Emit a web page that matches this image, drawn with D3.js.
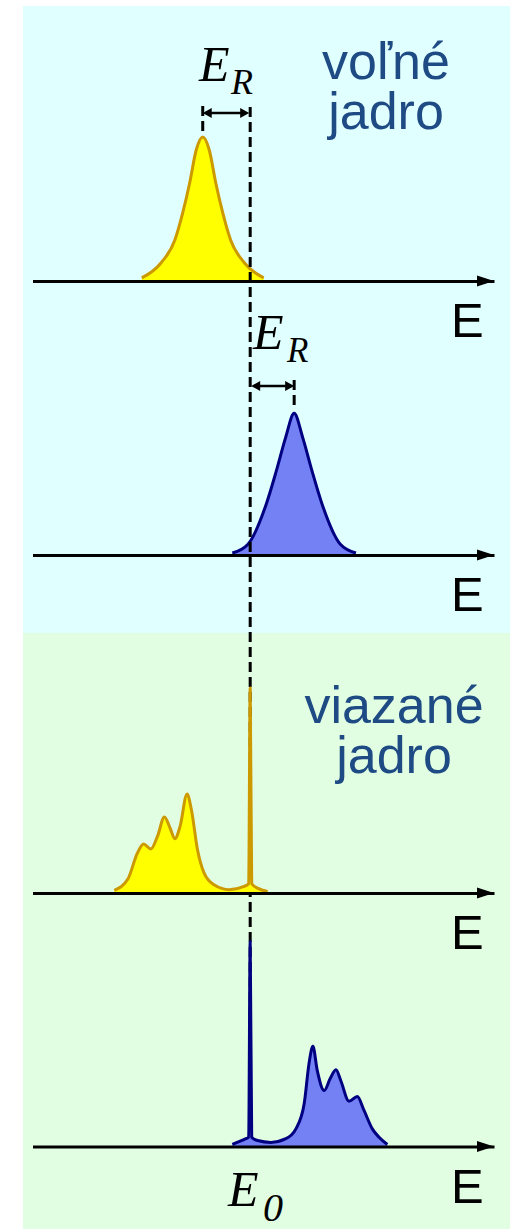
<!DOCTYPE html>
<html>
<head>
<meta charset="utf-8">
<script src="https://cdn.jsdelivr.net/npm/d3@7"></script>
<style>
  html, body { margin: 0; padding: 0; background: #fff; }
  svg { display: block; }
</style>
</head>
<body>
<script>
// Energy axis in arbitrary units, E0 (resonance energy) at 0
const energyRange = [-50, 56];
const intensityRange = [0, 100];
const E0 = 0;

// Spectra as [energy, intensity] samples
const freeEmission = [[-24.9,1.5],[-20.5,8.8],[-17.3,20],[-15.5,33.2],[-13.9,47.8],[-12.4,63.9],[-10.9,70.2],[-9.4,63.9],[-7.9,47.8],[-6.3,33.2],[-4.5,20],[-1.3,8.8],[3.1,1.5]];
const freeAbsorption = [[-4.1,1],[-0.45,5.4],[3.7,24.9],[6.0,41],[8.15,57.4],[10.1,69.1],[12.05,57.4],[14.2,41],[16.5,24.9],[20.65,5.4],[24.3,1]];
const boundEmission = [[-31.2,1.3],[-28.1,6.8],[-25.9,19.5],[-24.5,23.9],[-22.8,21.5],[-21.3,27.6],[-19.7,37.1],[-18.4,31.7],[-17.3,26.5],[-16.1,32.5],[-14.5,48.3],[-13.5,40.6],[-12.1,21.1],[-10.6,9.8],[-8.3,4.0],[-4.8,1.6],[-1.4,3.2],[-0.35,4.5],[0,100],[0.35,4.5],[1.7,2.4],[4.0,0.8]];
const boundAbsorption = [[-4.1,1.0],[-1.0,3.8],[-0.35,4.5],[0,100],[0.35,4.5],[1.7,2.9],[4.75,2.0],[8.2,3.8],[10.5,8.6],[12.4,20.8],[13.5,40.3],[14.4,48.9],[15.4,37.1],[17.0,27.3],[18.35,33.0],[19.7,37.4],[20.8,32.2],[22.7,22.1],[24.6,24.4],[26.15,17.6],[28.05,8.6],[29.6,4.5],[31.5,1.0]];

// Text
const axisLabel = "E";
const freeLabel = ["voľné", "jadro"];
const boundLabel = ["viazané", "jadro"];
const recoilLabel = ["E", "R"];
const resonanceLabel = ["E", "0"];

const W = 510, H = 1229;
const svg = d3.select("body").append("svg").attr("width", W).attr("height", H);

const x = d3.scaleLinear().domain(energyRange).range([32.5, 494]);

const emissionStyle = { fill: "#ffff00", stroke: "#cc9900" };
const absorptionStyle = { fill: "#7381f4", stroke: "#000080" };

const panels = [
  { data: freeEmission,   base: 281,    style: emissionStyle },
  { data: freeAbsorption, base: 555,    style: absorptionStyle },
  { data: boundEmission,  base: 893,    style: emissionStyle },
  { data: boundAbsorption,base: 1146.5, style: absorptionStyle }
];
panels.forEach(p => {
  p.y = d3.scaleLinear().domain(intensityRange).range([p.base, p.base - 205]);
});

// Backgrounds: free nucleus (top) and bound nucleus (bottom)
svg.append("rect").attr("x", 23).attr("y", 6).attr("width", W - 23).attr("height", 627).attr("fill", "#e0ffff");
svg.append("rect").attr("x", 23).attr("y", 633).attr("width", W - 23).attr("height", H - 633).attr("fill", "#e2fee2");

const layerFree = svg.append("g");
const layerGuides = svg.append("g");
const layerBound = svg.append("g");
const layerAxes = svg.append("g");
const layerText = svg.append("g");

function drawSpectrum(g, p) {
  const area = d3.area().x(d => x(d[0])).y0(p.base).y1(d => p.y(d[1])).curve(d3.curveMonotoneX);
  const line = d3.line().x(d => x(d[0])).y(d => p.y(d[1])).curve(d3.curveMonotoneX);
  g.append("path").attr("d", area(p.data)).attr("fill", p.style.fill);
  g.append("path").attr("d", line(p.data)).attr("fill", "none")
    .attr("stroke", p.style.stroke).attr("stroke-width", 3).attr("stroke-linejoin", "round");
}
drawSpectrum(layerFree, panels[0]);
drawSpectrum(layerFree, panels[1]);
drawSpectrum(layerBound, panels[2]);
drawSpectrum(layerBound, panels[3]);

// Axes with arrowheads
panels.forEach(p => {
  const ax = d3.axisBottom(x).tickValues([]).tickSizeOuter(0);
  const g = layerAxes.append("g").attr("transform", `translate(0,${p.base})`).call(ax);
  g.select(".domain").attr("stroke", "#000").attr("stroke-width", 3);
  const tip = x.range()[1];
  layerAxes.append("path")
    .attr("d", `M${tip},${p.base} L${tip - 17},${p.base - 5.5} L${tip - 17},${p.base + 5.5} Z`)
    .attr("fill", "#000");
  layerText.append("text")
    .attr("x", 451).attr("y", p.base + 56)
    .attr("font-family", "Liberation Sans, Arial, sans-serif")
    .attr("font-size", 49).attr("fill", "#000")
    .text(axisLabel);
});

// Guide lines through E0 and the recoil-shifted peak maxima
const dash = "10,5";
layerGuides.append("line")
  .attr("x1", x(E0)).attr("x2", x(E0)).attr("y1", 107).attr("y2", 1140)
  .attr("stroke", "#000").attr("stroke-width", 3).attr("stroke-dasharray", dash);

const peakOf = data => data.reduce((a, b) => (b[1] > a[1] ? b : a));
const emPeak = peakOf(freeEmission)[0];
const abPeak = peakOf(freeAbsorption)[0];

layerGuides.append("line")
  .attr("x1", x(emPeak)).attr("x2", x(emPeak)).attr("y1", 106).attr("y2", 134)
  .attr("stroke", "#000").attr("stroke-width", 3).attr("stroke-dasharray", dash);
layerGuides.append("line")
  .attr("x1", x(abPeak)).attr("x2", x(abPeak)).attr("y1", 380).attr("y2", 408)
  .attr("stroke", "#000").attr("stroke-width", 3).attr("stroke-dasharray", dash);

function doubleArrow(xa, xb, yy) {
  const L = 9, hw = 5;
  layerGuides.append("line").attr("x1", xa + 3).attr("x2", xb - 3).attr("y1", yy).attr("y2", yy)
    .attr("stroke", "#000").attr("stroke-width", 2.5);
  layerGuides.append("path")
    .attr("d", `M${xa},${yy} L${xa + L},${yy - hw} L${xa + L},${yy + hw} Z M${xb},${yy} L${xb - L},${yy - hw} L${xb - L},${yy + hw} Z`)
    .attr("fill", "#000");
}
doubleArrow(x(emPeak), x(E0) - 1, 113);
doubleArrow(x(E0) + 1, x(abPeak), 386);

// Italic symbols
function symbol(xe, ye, main, sub, subSize, dx, dy) {
  const t = layerText.append("text").attr("x", xe).attr("y", ye)
    .attr("font-family", "Liberation Serif, Times New Roman, serif")
    .attr("font-style", "italic").attr("fill", "#000");
  t.append("tspan").attr("font-size", 50).text(main);
  t.append("tspan").attr("x", xe + dx).attr("y", ye + dy).attr("font-size", subSize).text(sub);
}
symbol(199, 80.5, recoilLabel[0], recoilLabel[1], 36, 32, 13.5);
symbol(253, 349, recoilLabel[0], recoilLabel[1], 35, 34, 12.5);
symbol(228, 1206, resonanceLabel[0], resonanceLabel[1], 40, 35, 15);

// Region captions, two lines each
function caption(cx, y0, lines) {
  const t = layerText.append("text")
    .attr("text-anchor", "middle")
    .attr("font-family", "Liberation Sans, Arial, sans-serif")
    .attr("font-size", 52).attr("fill", "#1f4b85");
  lines.forEach((s, i) => {
    t.append("tspan").attr("x", cx).attr("y", y0 + i * 50).text(s);
  });
}
caption(386, 79, freeLabel);
caption(394, 723, boundLabel);
</script>
</body>
</html>
